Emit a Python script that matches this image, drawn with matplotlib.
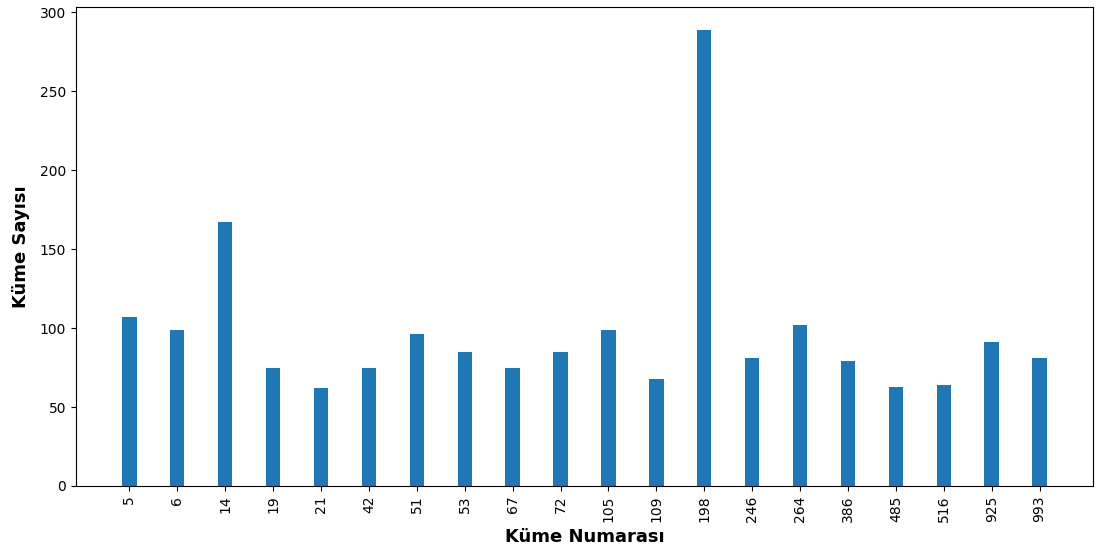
import matplotlib
matplotlib.use("Agg")
import matplotlib.pyplot as plt
import numpy as np

cluster_ids = ["5", "6", "14", "19", "21", "42", "51", "53", "67", "72",
               "105", "109", "198", "246", "264", "386", "485", "516", "925", "993"]
cluster_counts = [107, 99, 167, 75, 62, 75, 96, 85, 75, 85,
                  99, 68, 289, 81, 102, 79, 63, 64, 91, 81]

fig, ax = plt.subplots(figsize=(10.98, 5.56), dpi=100)
fig.subplots_adjust(left=0.0692, right=0.9954, top=0.9874, bottom=0.1259)

x = np.arange(len(cluster_ids))
ax.bar(x, cluster_counts, width=0.3, color="#1f77b4")
ax.set_xticks(x)
ax.set_xticklabels(cluster_ids, rotation=90)
ax.set_xlabel("Küme Numarası", fontsize=13, fontweight="bold", labelpad=4)
ax.set_ylabel("Küme Sayısı", fontsize=13, fontweight="bold", labelpad=7)

fig.savefig("out.png", dpi=100)
